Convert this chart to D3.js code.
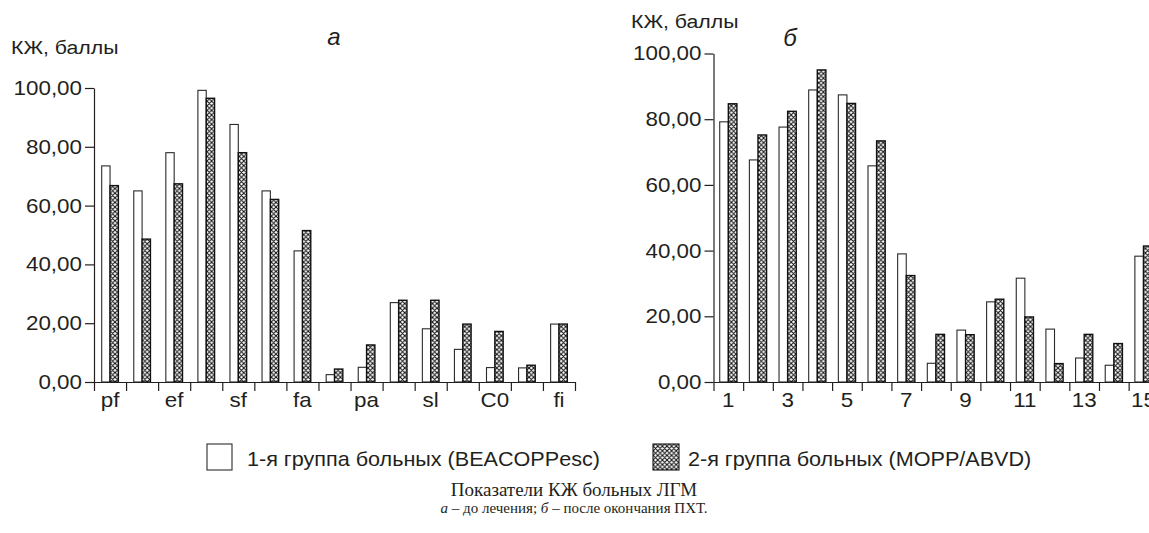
<!DOCTYPE html>
<html>
<head>
<meta charset="utf-8">
<script src="https://cdn.jsdelivr.net/npm/d3@7"></script>
<style>
  body { margin: 0; background: #fff; }
  svg { display: block; }
  text { fill: #231f20; }
</style>
</head>
<body>
<script>
// chart a: before treatment
var labelsA = ['pf', '', 'ef', '', 'sf', '', 'fa', '', 'pa', '', 'sl', '', 'C0', '', 'fi'];
var group1A = [73.5, 65, 78, 99.2, 87.6, 65, 44.6, 2.5, 5, 27, 18.1, 11.1, 4.9, 4.8, 19.7];
var group2A = [66.8, 48.6, 67.4, 96.5, 78, 62.1, 51.5, 4.4, 12.6, 27.8, 27.8, 19.7, 17.2, 5.7, 19.7];

// chart b: after chemotherapy
var labelsB = ['1', '', '3', '', '5', '', '7', '', '9', '', '11', '', '13', '', '15'];
var group1B = [79.2, 67.6, 77.6, 88.9, 87.4, 65.8, 39, 5.7, 15.8, 24.4, 31.6, 16.1, 7.3, 5.1, 38.3];
var group2B = [84.7, 75.2, 82.4, 95, 84.8, 73.4, 32.4, 14.5, 14.4, 25.2, 19.8, 5.6, 14.5, 11.7, 41.4];

var yTicks = [0, 20, 40, 60, 80, 100];
var legendLabels = ['1-я группа больных (BEACOPPesc)', '2-я группа больных (MOPP/ABVD)'];

var width = 1149, height = 533;
var sx = 1.12; // the original lettering is a little wider than Arial
var font = '"Liberation Sans", Arial, sans-serif';

var svg = d3.select('body').append('svg').attr('width', width).attr('height', height);

var cell = 4.6;
var defs = svg.append('defs');
var pat = defs.append('pattern')
    .attr('id', 'hatch')
    .attr('patternUnits', 'userSpaceOnUse')
    .attr('width', cell).attr('height', cell);
pat.append('rect').attr('width', cell).attr('height', cell).attr('fill', '#fff');
pat.append('path')
    .attr('d', 'M0,0L' + cell + ',' + cell + 'M' + cell + ',0L0,' + cell +
        'M-1,1L1,-1M' + (cell - 1) + ',' + (cell + 1) + 'L' + (cell + 1) + ',' + (cell - 1))
    .attr('stroke', '#111').attr('stroke-width', 1.05);

function label(x, y, str, size, anchor, style, scaleX) {
    return svg.append('text')
        .attr('transform', 'translate(' + x + ',' + y + ') scale(' + (scaleX || sx) + ',1)')
        .attr('text-anchor', anchor || 'start')
        .style('font-family', font)
        .style('font-size', size + 'px')
        .style('font-style', style || 'normal')
        .text(str);
}

var fmt = function (d) { return d3.format('.2f')(d).replace('.', ','); };

function drawChart(cfg) {
    var g = svg.append('g');
    var x = d3.scaleBand().domain(d3.range(cfg.labels.length)).range([cfg.x0, cfg.x1]);
    var xEdge = d3.scaleLinear().domain([0, cfg.labels.length]).range([cfg.x0, cfg.x1]);
    var y = d3.scaleLinear().domain([0, 100]).range([cfg.yBottom, cfg.yTop]);

    var bw = x.bandwidth() * cfg.barFrac;
    var pad = (x.bandwidth() - 2 * bw) / 2;

    g.selectAll('rect.g1').data(cfg.g1).enter().append('rect')
        .attr('class', 'g1')
        .attr('x', function (d, i) { return x(i) + pad; })
        .attr('y', function (d) { return y(d); })
        .attr('width', bw)
        .attr('height', function (d) { return y(0) - y(d); })
        .attr('fill', '#fff').attr('stroke', '#2a2a2a').attr('stroke-width', 1.1);

    g.selectAll('rect.g2').data(cfg.g2).enter().append('rect')
        .attr('class', 'g2')
        .attr('x', function (d, i) { return x(i) + pad + bw; })
        .attr('y', function (d) { return y(d); })
        .attr('width', bw)
        .attr('height', function (d) { return y(0) - y(d); })
        .attr('fill', 'url(#hatch)').attr('stroke', '#111').attr('stroke-width', 1.4);

    // y axis
    var ya = g.append('g')
        .attr('transform', 'translate(' + cfg.x0 + ',0)')
        .call(d3.axisLeft(y).tickValues(yTicks).tickFormat(fmt).tickSize(9).tickSizeOuter(0).tickPadding(3));
    ya.select('.domain').attr('stroke', '#231f20').attr('stroke-width', 1.2);
    ya.selectAll('line').attr('stroke', '#231f20').attr('stroke-width', 1.2);
    ya.selectAll('text')
        .attr('x', -12 / sx)
        .attr('transform', 'scale(' + sx + ',1)')
        .style('font-family', font).style('font-size', '20px').attr('fill', '#231f20');

    // x axis: ticks on band edges
    var xa = g.append('g')
        .attr('transform', 'translate(0,' + cfg.yBottom + ')')
        .call(d3.axisBottom(xEdge).tickValues(d3.range(cfg.labels.length + 1)).tickFormat('').tickSize(9).tickSizeOuter(0));
    xa.select('.domain').attr('stroke', '#231f20').attr('stroke-width', 1.2);
    xa.selectAll('line').attr('stroke', '#231f20').attr('stroke-width', 1.2);

    // x labels centered in bands
    var xl = g.append('g')
        .attr('transform', 'translate(0,' + cfg.yBottom + ')')
        .call(d3.axisBottom(x).tickFormat(function (i) { return cfg.labels[i]; }).tickSize(0).tickPadding(11));
    xl.select('.domain').remove();
    xl.selectAll('text')
        .attr('transform', 'scale(' + sx + ',1)')
        .style('font-family', font).style('font-size', '20px').attr('fill', '#231f20');

    label(cfg.unitX, cfg.unitY, 'КЖ, баллы', 19, 'start');
    label(cfg.titleX, cfg.titleY, cfg.title, 24, 'middle', 'italic', 1);
}

drawChart({
    labels: labelsA, g1: group1A, g2: group2A,
    x0: 94, x1: 575, yTop: 88, yBottom: 382, barFrac: 0.26,
    unitX: 11, unitY: 54, title: 'а', titleX: 334, titleY: 45
});

drawChart({
    labels: labelsB, g1: group1B, g2: group2B,
    x0: 713.5, x1: 1158.3, yTop: 53.5, yBottom: 382, barFrac: 0.29,
    unitX: 631, unitY: 28, title: 'б', titleX: 790, titleY: 46
});

// legend
var legend = svg.append('g');
legend.append('rect').attr('x', 207).attr('y', 444).attr('width', 25).attr('height', 26)
    .attr('fill', '#fff').attr('stroke', '#2a2a2a').attr('stroke-width', 1.1);
legend.append('rect').attr('x', 653).attr('y', 444).attr('width', 26).attr('height', 26)
    .attr('fill', 'url(#hatch)').attr('stroke', '#111').attr('stroke-width', 1.1);
label(247, 466, legendLabels[0], 20, 'start', 'normal', 1.08);
label(688, 466, legendLabels[1], 20, 'start', 'normal', 1.08);

// caption
svg.append('text')
    .attr('x', 574).attr('y', 496)
    .attr('text-anchor', 'middle')
    .style('font-family', '"Liberation Serif", "Times New Roman", serif')
    .style('font-size', '19px')
    .text('Показатели КЖ больных ЛГМ');

var cap2 = svg.append('text')
    .attr('x', 574).attr('y', 513)
    .attr('text-anchor', 'middle')
    .style('font-family', '"Liberation Serif", "Times New Roman", serif')
    .style('font-size', '15px');
cap2.append('tspan').style('font-style', 'italic').text('а');
cap2.append('tspan').text(' – до лечения; ');
cap2.append('tspan').style('font-style', 'italic').text('б');
cap2.append('tspan').text(' – после окончания ПХТ.');
</script>
</body>
</html>
